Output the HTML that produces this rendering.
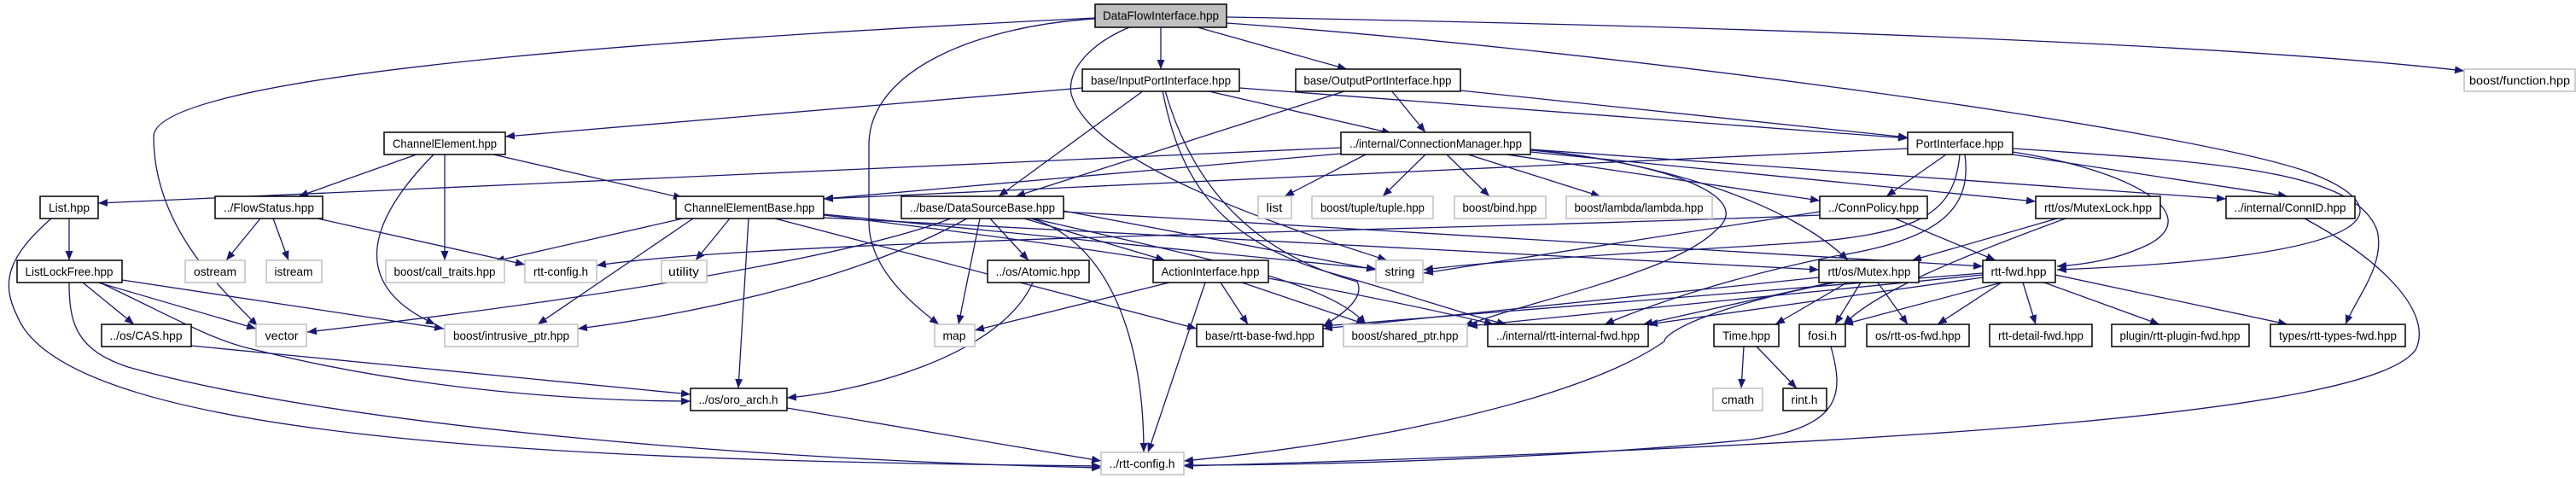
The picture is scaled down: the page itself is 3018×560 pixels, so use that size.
<!DOCTYPE html>
<html><head><meta charset="utf-8"><style>
html,body{margin:0;padding:0;background:#fff;}
svg{display:block;}
text{font-family:"Liberation Sans",sans-serif;font-size:14px;}
</style></head><body>
<svg width="3018" height="560" viewBox="0 0 3018 560" xmlns="http://www.w3.org/2000/svg">
<defs>
<marker id="a" markerUnits="userSpaceOnUse" markerWidth="12" markerHeight="10" refX="11" refY="4.5" orient="auto">
<path d="M0,0 L11,4.5 L0,9 z" fill="#191970"/>
</marker>
</defs>
<g fill="none" stroke="#191970" stroke-width="1.3" marker-end="url(#a)">
<path d="M1360 32 L1360 81"/>
<path d="M1403 32 L1578 81"/>
<path d="M1437 20 C2000 30 2600 50 2887 83"/>
<path d="M1283 21 C900 40 180 80 180 160 C180 260 250 330 302 382"/>
<path d="M1283 22 C1150 30 1018 80 1018 170 L1018 260 C1018 310 1060 350 1100 380"/>
<path d="M1323 32 C1280 50 1250 80 1255 110 C1280 200 1550 280 1625 305"/>
<path d="M1437 27 C1900 60 2550 150 2700 200 C2810 240 2820 300 2410 316"/>
<path d="M2358 174 C2600 190 2760 200 2785 270 C2795 310 2760 350 2748 380"/>
<path d="M2358 178 C2500 200 2580 250 2520 285 C2480 305 2440 310 2410 312"/>
<path d="M2358 181 L2680 230"/>
<path d="M1268 103 L592 160"/>
<path d="M1452 103 L2235 162"/>
<path d="M1412 106 L1630 156"/>
<path d="M1340 106 L1170 230"/>
<path d="M1362 106 C1380 200 1420 280 1560 320 C1650 345 1720 370 1765 380"/>
<path d="M1365 106 C1400 230 1480 300 1590 330 C1600 350 1570 370 1550 382"/>
<path d="M1630 106 L1670 155"/>
<path d="M1711 106 L2235 161"/>
<path d="M1578 106 L1190 230"/>
<path d="M1571 173 L115 238"/>
<path d="M1571 180 L965 233"/>
<path d="M1600 181 L1505 230"/>
<path d="M1670 181 L1620 230"/>
<path d="M1695 181 L1745 230"/>
<path d="M1720 181 L1875 230"/>
<path d="M1765 181 L2132 235"/>
<path d="M1793 178 L2385 236"/>
<path d="M1793 175 L2608 233"/>
<path d="M1793 175 C1950 190 2100 240 2165 305"/>
<path d="M1793 176 C1950 190 2060 230 2010 270 C1960 320 1800 350 1715 382"/>
<path d="M2235 174 L965 233"/>
<path d="M2280 181 L2210 230"/>
<path d="M2296 181 C2290 250 2250 275 2100 285 C1950 295 1750 305 1668 316"/>
<path d="M2302 181 C2310 240 2280 280 2150 300 C2050 320 1950 350 1880 380"/>
<path d="M488 181 L350 230"/>
<path d="M521 181 L521 305"/>
<path d="M508 181 C440 250 400 330 510 380"/>
<path d="M578 181 L800 232"/>
<path d="M81 256 L81 305"/>
<path d="M60 256 C10 300 0 330 20 370 C80 520 700 540 1290 546"/>
<path d="M305 256 L265 305"/>
<path d="M320 256 L338 305"/>
<path d="M372 256 L615 310"/>
<path d="M97 331 L157 380"/>
<path d="M115 331 L300 385"/>
<path d="M143 328 L520 385"/>
<path d="M117 331 C200 370 250 400 300 410 C500 460 700 470 809 470"/>
<path d="M81 331 C81 380 90 410 150 430 C400 500 900 540 1290 548"/>
<path d="M224 405 L809 462"/>
<path d="M800 256 L580 306"/>
<path d="M855 256 L815 305"/>
<path d="M812 256 L630 380"/>
<path d="M877 256 L865 455"/>
<path d="M908 256 L1402 385"/>
<path d="M965 251 L1612 315"/>
<path d="M965 252 C1200 280 1500 320 1750 380"/>
<path d="M965 255 L2131 316"/>
<path d="M1246 248 L2323 312"/>
<path d="M1114 256 C1000 300 700 350 360 389"/>
<path d="M1133 256 C1000 330 800 370 677 385"/>
<path d="M1148 256 L1123 380"/>
<path d="M1160 256 L1205 305"/>
<path d="M1200 256 L1365 305"/>
<path d="M1208 256 C1290 280 1340 380 1340 530"/>
<path d="M1246 247 L1612 316"/>
<path d="M1210 256 C1400 300 1560 330 1600 380"/>
<path d="M1210 331 C1170 420 1000 460 922 466"/>
<path d="M1370 331 L1142 387"/>
<path d="M1430 331 L1462 380"/>
<path d="M1455 331 L1600 380"/>
<path d="M1412 331 L1345 530"/>
<path d="M922 478 L1290 540"/>
<path d="M2132 248 L1668 320"/>
<path d="M2220 256 L2338 305"/>
<path d="M2132 252 C1700 270 900 280 699 311"/>
<path d="M2410 256 L2240 305"/>
<path d="M2420 256 C2300 300 2200 340 2160 380"/>
<path d="M2164 331 L2080 380"/>
<path d="M2180 331 L2150 380"/>
<path d="M2200 331 L2235 380"/>
<path d="M2150 331 C2000 360 1950 390 1950 400 C1850 470 1600 520 1387 540"/>
<path d="M2145 331 L1925 380"/>
<path d="M2131 325 L1550 385"/>
<path d="M2345 331 L2270 380"/>
<path d="M2370 331 L2385 380"/>
<path d="M2395 331 L2530 380"/>
<path d="M2408 322 L2680 380"/>
<path d="M2323 325 L1931 380"/>
<path d="M2323 320 L1550 382"/>
<path d="M2345 331 L2160 380"/>
<path d="M2323 322 L1720 382"/>
<path d="M2043 406 L2040 455"/>
<path d="M2058 406 L2105 455"/>
<path d="M2145 406 C2160 460 2160 500 2050 515 C1800 540 1500 545 1387 545"/>
<path d="M2700 256 C2800 310 2850 370 2830 410 C2780 480 2300 520 1387 546"/>
</g>
<g stroke-width="1.5">
<!-- dark nodes -->
<g fill="#fff" stroke="#000">
<rect x="1283" y="5" width="154" height="27" fill="#bfbfbf"/>
<rect x="1268" y="81" width="184" height="26"/>
<rect x="1518" y="81" width="193" height="26"/>
<rect x="450" y="155" width="142" height="26"/>
<rect x="1571" y="155" width="222" height="26"/>
<rect x="2235" y="155" width="123" height="26"/>
<rect x="47" y="230" width="68" height="26"/>
<rect x="252" y="230" width="126" height="26"/>
<rect x="792" y="230" width="173" height="26"/>
<rect x="1056" y="230" width="190" height="26"/>
<rect x="2132" y="230" width="126" height="26"/>
<rect x="2385" y="230" width="146" height="26"/>
<rect x="2608" y="230" width="151" height="26"/>
<rect x="20" y="305" width="123" height="26"/>
<rect x="1157" y="305" width="119" height="26"/>
<rect x="1351" y="305" width="135" height="26"/>
<rect x="2131" y="305" width="117" height="26"/>
<rect x="2323" y="305" width="85" height="26"/>
<rect x="119" y="380" width="105" height="26"/>
<rect x="1402" y="380" width="148" height="26"/>
<rect x="1743" y="380" width="188" height="26"/>
<rect x="2008" y="380" width="76" height="26"/>
<rect x="2108" y="380" width="54" height="26"/>
<rect x="2187" y="380" width="120" height="26"/>
<rect x="2331" y="380" width="120" height="26"/>
<rect x="2474" y="380" width="161" height="26"/>
<rect x="2660" y="380" width="158" height="26"/>
<rect x="809" y="455" width="113" height="26"/>
<rect x="2089" y="455" width="51" height="26"/>
</g>
<g fill="#fff" stroke="#bfbfbf">
<rect x="2887" y="81" width="130" height="26"/>
<rect x="1474" y="230" width="39" height="26"/>
<rect x="1537" y="230" width="142" height="26"/>
<rect x="1704" y="230" width="107" height="26"/>
<rect x="1835" y="230" width="171" height="26"/>
<rect x="217" y="305" width="70" height="26"/>
<rect x="312" y="305" width="65" height="26"/>
<rect x="452" y="305" width="139" height="26"/>
<rect x="615" y="305" width="84" height="26"/>
<rect x="775" y="305" width="53" height="26"/>
<rect x="1612" y="305" width="55" height="26"/>
<rect x="300" y="380" width="59" height="26"/>
<rect x="521" y="380" width="156" height="26"/>
<rect x="1095" y="380" width="47" height="26"/>
<rect x="1574" y="380" width="145" height="26"/>
<rect x="2007" y="455" width="58" height="26"/>
<rect x="1290" y="530" width="97" height="26"/>
</g>
</g>
<g fill="#000" text-anchor="middle" lengthAdjust="spacingAndGlyphs">
<text x="1360" y="23" textLength="136" lengthAdjust="spacingAndGlyphs">DataFlowInterface.hpp</text>
<text x="1360" y="99" textLength="164" lengthAdjust="spacingAndGlyphs">base/InputPortInterface.hpp</text>
<text x="1614" y="99" textLength="173" lengthAdjust="spacingAndGlyphs">base/OutputPortInterface.hpp</text>
<text x="2952" y="99" textLength="118" lengthAdjust="spacingAndGlyphs">boost/function.hpp</text>
<text x="521" y="173" textLength="122" lengthAdjust="spacingAndGlyphs">ChannelElement.hpp</text>
<text x="1682" y="173" textLength="202" lengthAdjust="spacingAndGlyphs">../internal/ConnectionManager.hpp</text>
<text x="2296" y="173" textLength="103" lengthAdjust="spacingAndGlyphs">PortInterface.hpp</text>
<text x="81" y="248" textLength="48" lengthAdjust="spacingAndGlyphs">List.hpp</text>
<text x="315" y="248" textLength="106" lengthAdjust="spacingAndGlyphs">../FlowStatus.hpp</text>
<text x="878" y="248" textLength="153" lengthAdjust="spacingAndGlyphs">ChannelElementBase.hpp</text>
<text x="1151" y="248" textLength="170" lengthAdjust="spacingAndGlyphs">../base/DataSourceBase.hpp</text>
<text x="1493" y="248" textLength="19" lengthAdjust="spacingAndGlyphs">list</text>
<text x="1608" y="248" textLength="122" lengthAdjust="spacingAndGlyphs">boost/tuple/tuple.hpp</text>
<text x="1757" y="248" textLength="87" lengthAdjust="spacingAndGlyphs">boost/bind.hpp</text>
<text x="1920" y="248" textLength="151" lengthAdjust="spacingAndGlyphs">boost/lambda/lambda.hpp</text>
<text x="2195" y="248" textLength="106" lengthAdjust="spacingAndGlyphs">../ConnPolicy.hpp</text>
<text x="2458" y="248" textLength="126" lengthAdjust="spacingAndGlyphs">rtt/os/MutexLock.hpp</text>
<text x="2683" y="248" textLength="131" lengthAdjust="spacingAndGlyphs">../internal/ConnID.hpp</text>
<text x="81" y="323" textLength="103" lengthAdjust="spacingAndGlyphs">ListLockFree.hpp</text>
<text x="252" y="323" textLength="50" lengthAdjust="spacingAndGlyphs">ostream</text>
<text x="344" y="323" textLength="45" lengthAdjust="spacingAndGlyphs">istream</text>
<text x="521" y="323" textLength="119" lengthAdjust="spacingAndGlyphs">boost/call_traits.hpp</text>
<text x="657" y="323" textLength="64" lengthAdjust="spacingAndGlyphs">rtt-config.h</text>
<text x="801" y="323" textLength="36" lengthAdjust="spacingAndGlyphs">utility</text>
<text x="1216" y="323" textLength="99" lengthAdjust="spacingAndGlyphs">../os/Atomic.hpp</text>
<text x="1418" y="323" textLength="115" lengthAdjust="spacingAndGlyphs">ActionInterface.hpp</text>
<text x="1640" y="323" textLength="35" lengthAdjust="spacingAndGlyphs">string</text>
<text x="2190" y="323" textLength="97" lengthAdjust="spacingAndGlyphs">rtt/os/Mutex.hpp</text>
<text x="2365" y="323" textLength="65" lengthAdjust="spacingAndGlyphs">rtt-fwd.hpp</text>
<text x="171" y="398" textLength="85" lengthAdjust="spacingAndGlyphs">../os/CAS.hpp</text>
<text x="330" y="398" textLength="39" lengthAdjust="spacingAndGlyphs">vector</text>
<text x="599" y="398" textLength="136" lengthAdjust="spacingAndGlyphs">boost/intrusive_ptr.hpp</text>
<text x="1118" y="398" textLength="27" lengthAdjust="spacingAndGlyphs">map</text>
<text x="1476" y="398" textLength="128" lengthAdjust="spacingAndGlyphs">base/rtt-base-fwd.hpp</text>
<text x="1646" y="398" textLength="125" lengthAdjust="spacingAndGlyphs">boost/shared_ptr.hpp</text>
<text x="1837" y="398" textLength="168" lengthAdjust="spacingAndGlyphs">../internal/rtt-internal-fwd.hpp</text>
<text x="2046" y="398" textLength="56" lengthAdjust="spacingAndGlyphs">Time.hpp</text>
<text x="2135" y="398" textLength="34" lengthAdjust="spacingAndGlyphs">fosi.h</text>
<text x="2247" y="398" textLength="100" lengthAdjust="spacingAndGlyphs">os/rtt-os-fwd.hpp</text>
<text x="2391" y="398" textLength="100" lengthAdjust="spacingAndGlyphs">rtt-detail-fwd.hpp</text>
<text x="2554" y="398" textLength="141" lengthAdjust="spacingAndGlyphs">plugin/rtt-plugin-fwd.hpp</text>
<text x="2739" y="398" textLength="138" lengthAdjust="spacingAndGlyphs">types/rtt-types-fwd.hpp</text>
<text x="865" y="473" textLength="93" lengthAdjust="spacingAndGlyphs">../os/oro_arch.h</text>
<text x="2036" y="473" textLength="38" lengthAdjust="spacingAndGlyphs">cmath</text>
<text x="2114" y="473" textLength="31" lengthAdjust="spacingAndGlyphs">rint.h</text>
<text x="1338" y="548" textLength="77" lengthAdjust="spacingAndGlyphs">../rtt-config.h</text>
</g>
</svg>
</body></html>
